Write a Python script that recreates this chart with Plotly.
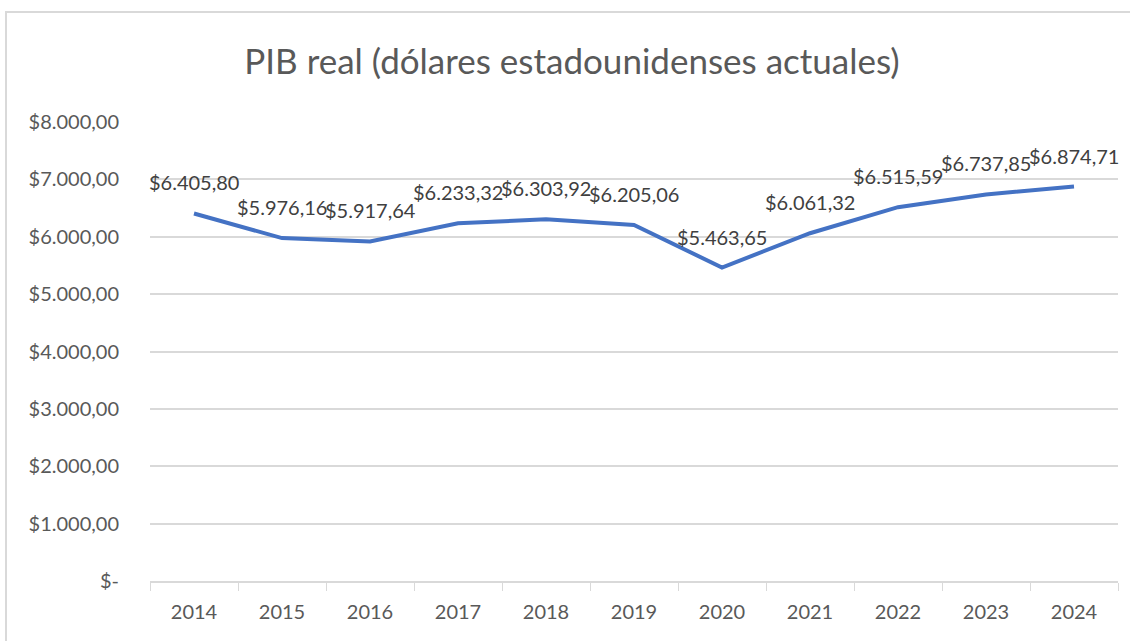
import plotly.graph_objects as go

years = ["2014", "2015", "2016", "2017", "2018", "2019", "2020", "2021", "2022", "2023", "2024"]
pib = [6405.80, 5976.16, 5917.64, 6233.32, 6303.92, 6205.06, 5463.65, 6061.32, 6515.59, 6737.85, 6874.71]
labels = ["$6.405,80", "$5.976,16", "$5.917,64", "$6.233,32", "$6.303,92", "$6.205,06",
          "$5.463,65", "$6.061,32", "$6.515,59", "$6.737,85", "$6.874,71"]
ytick_vals = [0, 1000, 2000, 3000, 4000, 5000, 6000, 7000, 8000]
ytick_text = ["$-", "$1.000,00", "$2.000,00", "$3.000,00", "$4.000,00", "$5.000,00",
              "$6.000,00", "$7.000,00", "$8.000,00"]
title = "PIB real (dólares estadounidenses actuales)"

FONT = "Lato"
W, H = 1130, 641
ML, MR, MT, MB = 150, 12, 122, 60
pw, ph = W - ML - MR, H - MT - MB

fig = go.Figure()
fig.add_trace(go.Scatter(
    x=years, y=pib, mode="lines",
    line=dict(color="#4472C4", width=4),
    hoverinfo="skip", showlegend=False,
))

for i, (y, t) in enumerate(zip(pib, labels)):
    fig.add_annotation(x=i, y=y, xref="x", yref="y", text=t, showarrow=False, yshift=31,
                       font=dict(family=FONT, size=20, color="#404040"))

# outer chart border (Excel chart area)
fig.add_shape(type="rect", xref="paper", yref="paper",
              x0=(6 - ML) / pw, x1=(W + 10 - ML) / pw,
              y0=-(H + 10 - MT - ph) / ph, y1=1 + (MT - 12) / ph,
              line=dict(color="#d9d9d9", width=2), layer="below")

fig.update_layout(
    width=W, height=H,
    margin=dict(l=ML, r=MR, t=MT, b=MB),
    paper_bgcolor="white", plot_bgcolor="white",
    title=dict(text=title, x=(572 - ML) / pw, xref="paper", xanchor="center",
               y=(H - 62) / H, yanchor="middle",
               font=dict(family=FONT, size=35, color="#595959")),
    xaxis=dict(type="category", range=[-0.5, 10.5], tickson="boundaries",
               ticks="outside", ticklen=8, tickcolor="#d9d9d9",
               showline=True, linecolor="#d9d9d9", linewidth=1.5,
               showgrid=False, zeroline=False, ticklabelstandoff=12,
               tickfont=dict(family=FONT, size=20, color="#595959")),
    yaxis=dict(range=[0, 8000], tickvals=ytick_vals, ticktext=ytick_text,
               showgrid=True, gridcolor="#d9d9d9", gridwidth=1.5,
               zeroline=False, showline=False, ticks="",
               ticklabelstandoff=30,
               tickfont=dict(family=FONT, size=20, color="#595959")),
)

fig.write_html("out.html", config={"displayModeBar": False},
               post_script="document.body.style.margin='0';")
